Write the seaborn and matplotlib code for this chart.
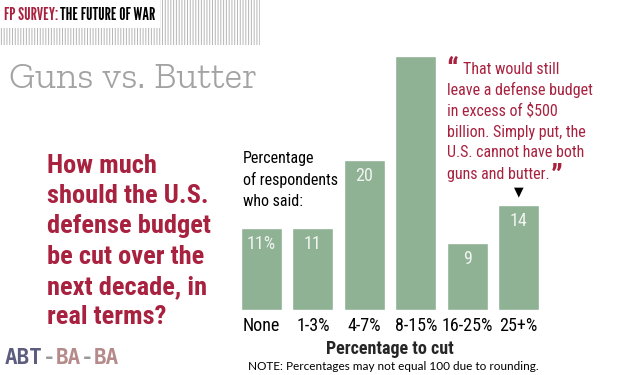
import matplotlib
matplotlib.use("Agg")
import matplotlib.pyplot as plt
import seaborn as sns
import pandas as pd
from matplotlib import font_manager as fm
from matplotlib.patches import Rectangle

# ---------------- data ----------------
categories = ["None", "1-3%", "4-7%", "8-15%", "16-25%", "25+%"]
values = [11, 11, 20, 34, 9, 14]
bar_labels = ["11%", "11", "20", "", "9", "14"]

title = "Guns vs. Butter"
header_red = "FP SURVEY:"
header_black = "THE FUTURE OF WAR"
question_lines = ["How much", "should the U.S.", "defense budget",
                  "be cut over the", "next decade, in", "real terms?"]
respondent_lines = ["Percentage", "of respondents", "who said:"]
quote_lines = ["That would still", "leave a defense budget", "in excess of $500",
               "billion. Simply put, the", "U.S. cannot have both", "guns and butter."]
xlabel = "Percentage to cut"
note = "NOTE: Percentages may not equal 100 due to rounding."
watermark_parts = ["ABT", "-", "BA", "-", "BA"]
watermark_colors = ["#5c5c7e", "#9a9a9a", "#b58a8a", "#9a9a9a", "#b58a8a"]

# ---------------- style ----------------
sns.set_style("white")
names = {f.name for f in fm.fontManager.ttflist}


def pick(*cands):
    for c in cands:
        if c in names:
            return c
    return "DejaVu Sans"


COND = pick("Roboto Condensed", "PT Sans Narrow", "Archivo Narrow", "Liberation Sans Narrow")
GOTHIC = pick("League Gothic", "Oswald", "Fjalla One", "Roboto Condensed")
SLAB = pick("Zilla Slab", "Roboto Slab", "Liberation Serif")
plt.rcParams["font.family"] = [COND, "DejaVu Sans"]
plt.rcParams["hatch.linewidth"] = 0.7

GREEN = "#8fb194"
RED = "#a8213f"
W, H = 625, 375

fig = plt.figure(figsize=(W / 100, H / 100), dpi=100)
fig.patch.set_facecolor("white")
r = fig.canvas.get_renderer()


def fx(px):
    return px / W


def fy(py):
    return 1 - py / H


# ---------------- bars ----------------
ax = fig.add_axes([235.8 / W, 65 / H, 308.4 / W, 290 / H])
df = pd.DataFrame({"cut": categories, "pct": values})
sns.barplot(data=df, x="cut", y="pct", color=GREEN, saturation=1, width=0.8, ax=ax)
ax.set_xlim(-0.5, len(categories) - 0.5)
ax.set_ylim(0, 290 / 7.48)
for s in ax.spines.values():
    s.set_visible(False)
ax.set_yticks([])
ax.set_ylabel("")
ax.tick_params(axis="x", length=0, pad=5, labelsize=13, labelcolor="black")
ax.set_xlabel(xlabel, fontsize=13, fontweight="bold", labelpad=4)

for i, (v, lab) in enumerate(zip(values, bar_labels)):
    if lab:
        ax.annotate(lab, xy=(i, v), xytext=(0, -16), textcoords="offset pixels",
                    ha="center", va="center", color="#f1f5f1", fontsize=13)

# triangle above the last bar
ax.annotate("\u25BC", xy=(len(values) - 1, values[-1]), xytext=(0, 13),
            textcoords="offset pixels", ha="center", va="center",
            fontsize=9, color="black", family="DejaVu Sans")

# ---------------- header ----------------
fig.add_artist(Rectangle((0, fy(45)), fx(260), 45 / H, transform=fig.transFigure,
                         facecolor="white", edgecolor="#b5b5b5", hatch="||||||",
                         linewidth=0))
t1 = fig.text(fx(4), fy(15), header_red, color=RED, fontsize=12.5, family=GOTHIC,
              va="center", ha="left", zorder=3)
fig.canvas.draw()
bb = t1.get_window_extent(r)
t2 = fig.text(bb.x1 / W + fx(2), fy(15), header_black, color="black", fontsize=12.5,
              family=GOTHIC, va="center", ha="left", zorder=3)
fig.canvas.draw()
bb2 = t2.get_window_extent(r)
box_w = max(133, bb2.x1 + 5)
fig.add_artist(Rectangle((0, fy(28)), box_w / W, 28 / H, transform=fig.transFigure,
                         facecolor="white", edgecolor="none", zorder=1))

# ---------------- title ----------------
fig.text(fx(9), fy(88), title, family=SLAB, fontweight="light", fontsize=27,
         color="#a3a3a3", ha="left", va="baseline")

# ---------------- question ----------------
for k, line in enumerate(question_lines):
    fig.text(fx(47), fy(166 + 30.2 * k), line, color=RED, fontsize=19,
             fontweight="bold", ha="left", va="center")

# ---------------- respondents ----------------
for k, line in enumerate(respondent_lines):
    fig.text(fx(243), fy(158 + 22 * k), line, color="black", fontsize=11.5,
             ha="left", va="center")

# ---------------- quote ----------------
fig.text(fx(446), fy(56), "\u201C", color=RED, fontsize=22, fontweight="bold",
         ha="left", va="top")
qt = []
for k, line in enumerate(quote_lines):
    x0 = 463 if k == 0 else 447
    qt.append(fig.text(fx(x0), fy(69 + 21 * k), line, color=RED, fontsize=11.5,
                       ha="left", va="center"))
fig.canvas.draw()
bq = qt[-1].get_window_extent(r)
fig.text(bq.x1 / W + fx(1), fy(163), "\u201D", color=RED, fontsize=22,
         fontweight="bold", ha="left", va="top")

# ---------------- note & watermark ----------------
fig.text(fx(248), fy(366), note, family="Lato", fontsize=8.5, color="black",
         ha="left", va="center")
x_px = 5
for part, col in zip(watermark_parts, watermark_colors):
    t = fig.text(fx(x_px), fy(358), part, family="DejaVu Sans Mono", fontsize=15,
                 fontweight="bold", color=col, ha="left", va="center")
    fig.canvas.draw()
    x_px = t.get_window_extent(r).x1

fig.savefig("out.png", dpi=100, facecolor="white")
